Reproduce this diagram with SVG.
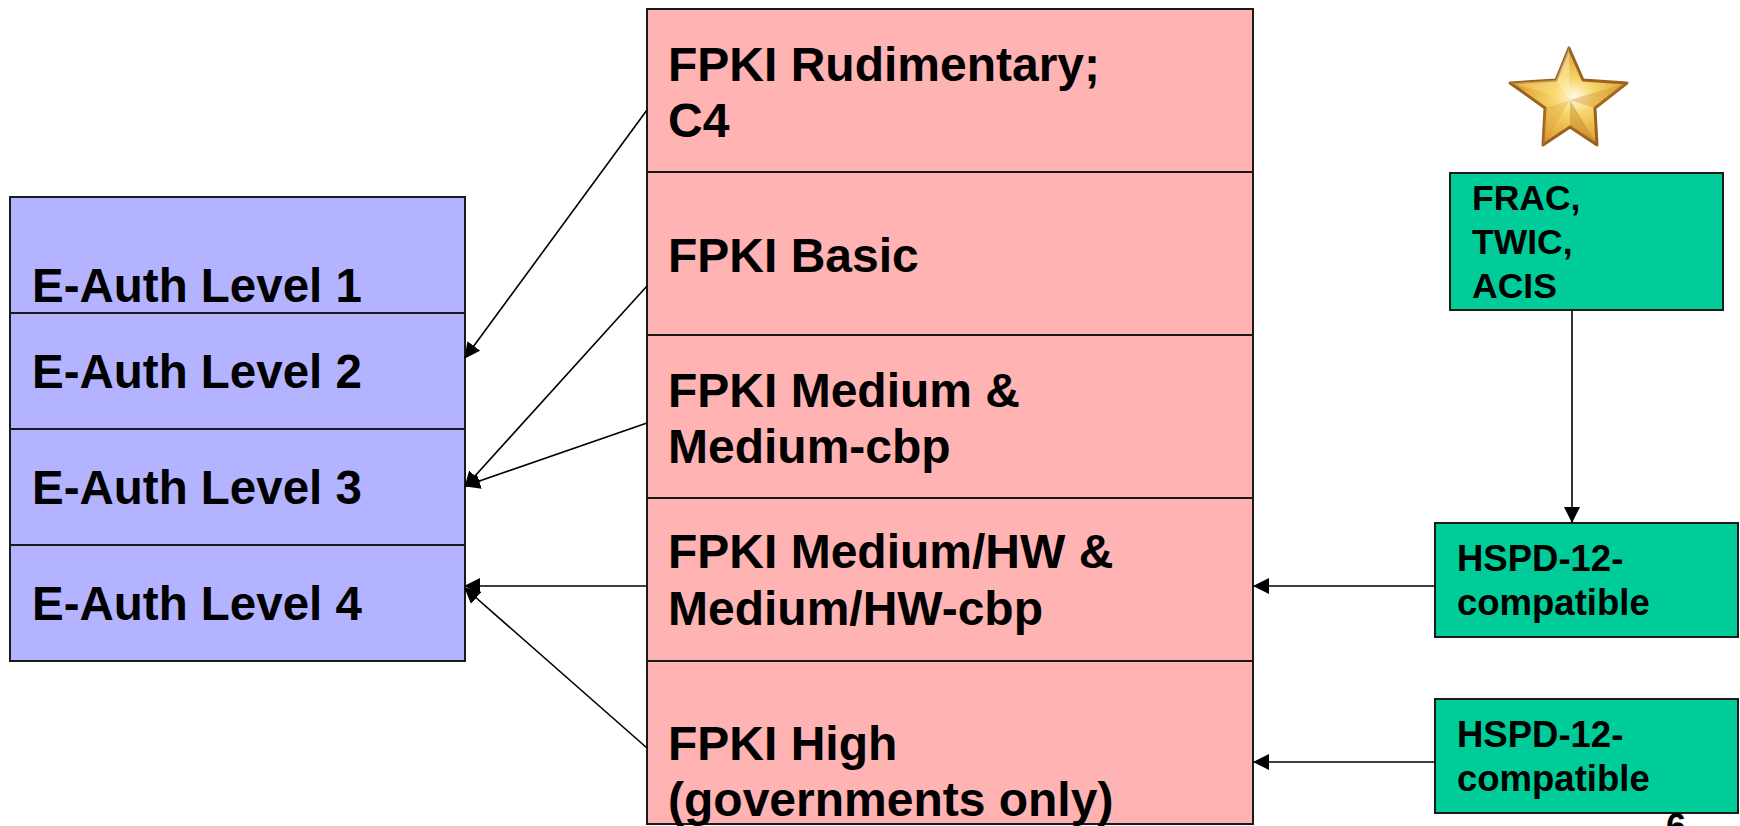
<svg xmlns="http://www.w3.org/2000/svg" width="1740" height="826" viewBox="0 0 1740 826">
<style>
.box{stroke:#1a1a1a;stroke-width:2}
.blue{fill:#b3b3ff}
.pink{fill:#ffb3b3}
.green{fill:#00cc99}
.t{font-family:"Liberation Sans",Arial,sans-serif;font-weight:bold;fill:#000}
.bl{font-size:47.5px}
.pk{font-size:48px}
.sm{font-size:35.5px}
.hs{font-size:36.5px}
.conn{stroke:#000;stroke-width:1.6;fill:none;marker-end:url(#ah)}
</style>
<defs>
<marker id="ah" viewBox="0 0 16 16" refX="15" refY="8" markerWidth="16" markerHeight="16" markerUnits="userSpaceOnUse" orient="auto">
<path d="M0,0 L16,8 L0,16 Z" fill="#000"/>
</marker>
<radialGradient id="gold" cx="0.55" cy="0.5" r="0.6">
<stop offset="0" stop-color="#fffbe8"/>
<stop offset="0.3" stop-color="#f7d66a"/>
<stop offset="0.75" stop-color="#e2a63a"/>
<stop offset="1" stop-color="#b7772a"/>
</radialGradient>
</defs>
<rect width="1740" height="826" fill="#fff"/>

<g id="eauth">
<rect class="box blue" x="10" y="197" width="455" height="464"/>
<line class="box" x1="10" y1="313" x2="465" y2="313"/>
<line class="box" x1="10" y1="429" x2="465" y2="429"/>
<line class="box" x1="10" y1="545" x2="465" y2="545"/>
<text class="t bl" x="32" y="302">E-Auth Level 1</text>
<text class="t bl" x="32" y="388">E-Auth Level 2</text>
<text class="t bl" x="32" y="504">E-Auth Level 3</text>
<text class="t bl" x="32" y="620">E-Auth Level 4</text>
</g>

<g id="fpki">
<rect class="box pink" x="647" y="9" width="606" height="815"/>
<line class="box" x1="647" y1="172" x2="1253" y2="172"/>
<line class="box" x1="647" y1="335" x2="1253" y2="335"/>
<line class="box" x1="647" y1="498" x2="1253" y2="498"/>
<line class="box" x1="647" y1="661" x2="1253" y2="661"/>
<text class="t pk" x="668" y="81">FPKI Rudimentary;</text>
<text class="t pk" x="668" y="137">C4</text>
<text class="t pk" x="668" y="272">FPKI Basic</text>
<text class="t pk" x="668" y="407">FPKI Medium &amp;</text>
<text class="t pk" x="668" y="463">Medium-cbp</text>
<text class="t pk" x="668" y="568">FPKI Medium/HW &amp;</text>
<text class="t pk" x="668" y="625">Medium/HW-cbp</text>
<text class="t pk" x="668" y="760">FPKI High</text>
<text class="t pk" x="668" y="816">(governments only)</text>
</g>

<g id="star">
<polygon points="1569,48 1583,80 1627,83 1595,108 1597,145 1570,127 1543,145 1545,108 1510,83 1556,80" fill="url(#gold)" stroke="#9a6220" stroke-width="3" stroke-linejoin="round"/>
<polygon points="1569,48 1570,100 1556,80" fill="#fff3c0" opacity="0.45"/>
<polygon points="1627,83 1570,100 1595,108" fill="#c8862c" opacity="0.35"/>
<polygon points="1597,145 1570,100 1570,127" fill="#b0701f" opacity="0.35"/>
<polygon points="1543,145 1570,100 1545,108" fill="#d9a040" opacity="0.3"/>
<polygon points="1510,83 1570,100 1556,80" fill="#fbe08a" opacity="0.4"/>
</g>

<g id="frac">
<rect class="box green" x="1450" y="173" width="273" height="137"/>
<text class="t sm" x="1472" y="210">FRAC,</text>
<text class="t sm" x="1472" y="254">TWIC,</text>
<text class="t sm" x="1472" y="298">ACIS</text>
</g>

<g id="hspd1">
<rect class="box green" x="1435" y="523" width="303" height="114"/>
<text class="t hs" x="1457" y="571">HSPD-12-</text>
<text class="t hs" x="1457" y="615">compatible</text>
</g>

<g id="hspd2">
<rect class="box green" x="1435" y="699" width="303" height="114"/>
<text class="t hs" x="1457" y="747">HSPD-12-</text>
<text class="t hs" x="1457" y="791">compatible</text>
</g>

<g id="connectors">
<line class="conn" x1="647" y1="110" x2="465" y2="358"/>
<line class="conn" x1="647" y1="286" x2="465" y2="487"/>
<line class="conn" x1="647" y1="423" x2="465" y2="486"/>
<line class="conn" x1="647" y1="586" x2="465" y2="586"/>
<line class="conn" x1="647" y1="748" x2="465" y2="588"/>
<line class="conn" x1="1572" y1="310" x2="1572" y2="522"/>
<line class="conn" x1="1435" y1="586" x2="1254" y2="586"/>
<line class="conn" x1="1435" y1="762" x2="1254" y2="762"/>
</g>

<text class="t" x="1666" y="839" font-size="36">6</text>
</svg>
